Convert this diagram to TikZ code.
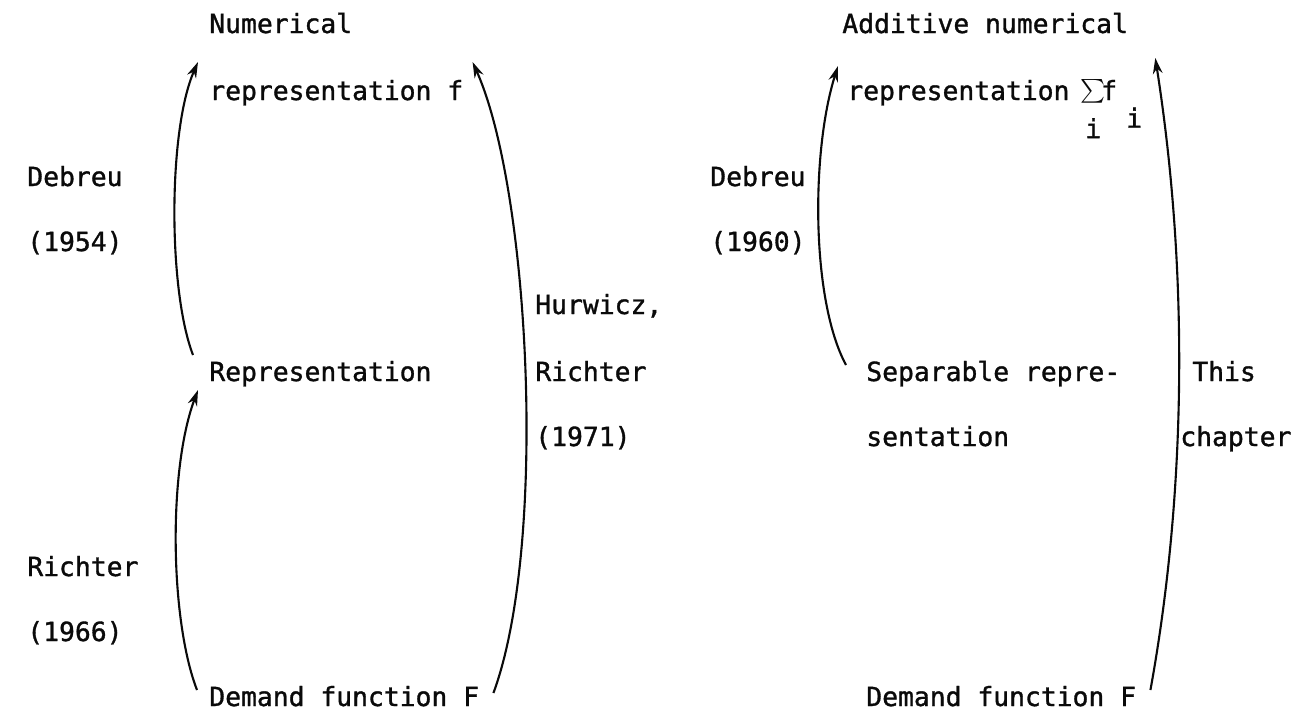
\documentclass[tikz,border=0pt]{standalone}
\usepackage{fontspec}
\newfontfamily\typefont[FakeBold=1.2]{DejaVu Sans Mono}
\definecolor{InkBlack}{HTML}{0A0A0A}
\usetikzlibrary{arrows.meta}

\begin{document}
\begin{tikzpicture}[x=0.02cm,y=-0.02cm,
        lbl/.style={anchor=base west,inner sep=0pt,text=InkBlack,
                    font=\typefont\fontsize{15}{18}\selectfont},
        arc/.style={draw=InkBlack,line width=1.2pt,
                    -{Stealth[length=9pt,width=5.5pt]}}]
  \useasboundingbox (0,0) rectangle (1313,710);

  % left scheme
  \node[lbl] (num)   at (209,33)  {Numerical};
  \node[lbl] (repf)  at (209,100) {representation f};
  \node[lbl] (deb1)  at (27,186)  {Debreu};
  \node[lbl] (deb1y) at (27,251)  {(1954)};
  \node[lbl] (hur)   at (535,314) {Hurwicz,};
  \node[lbl] (rich2) at (535,381) {Richter};
  \node[lbl] (yr71)  at (535,446) {(1971)};
  \node[lbl] (repr)  at (209,381) {Representation};
  \node[lbl] (rich1) at (27,576)  {Richter};
  \node[lbl] (yr66)  at (27,641)  {(1966)};
  \node[lbl] (dem1)  at (209,706) {Demand function F};

  % right scheme
  \node[lbl] (add)   at (842,33)  {Additive numerical};
  \node[lbl] (rsum)  at (847,100) {representation
      \makebox[0.6em][c]{\scalebox{1.35}{$\sum$}}\llap{\makebox[0.6em][c]{\raisebox{-1.45em}{i}}}f\hspace{0.35em}\raisebox{-1.05em}{i}};
  \node[lbl] (deb2)  at (710,186) {Debreu};
  \node[lbl] (deb2y) at (710,251) {(1960)};
  \node[lbl] (sep)   at (866,381) {Separable repre-};
  \node[lbl] (sent)  at (866,446) {sentation};
  \node[lbl] (this)  at (1192,381) {This};
  \node[lbl] (chap)  at (1180,446) {chapter};
  \node[lbl] (dem2)  at (866,706) {Demand function F};

  \draw[arc] ([shift={(-12,-16)}]dem1.base west)
      .. controls (170,620) and (168,470) .. ([shift={(-11,9)}]repr.base west);
  \draw[arc] ([shift={(-16,-26)}]repr.base west)
      .. controls (168,290) and (168,130) .. ([shift={(-11,-38)}]repf.base west);
  \draw[arc] ([shift={(14,-13)}]dem1.base east)
      .. controls (548,545) and (530,190) .. ([shift={(9,-38)}]repf.base east);
  \draw[arc] ([shift={(-20,-16)}]sep.base west)
      .. controls (811,300) and (811,151) .. ([shift={(-9,-34)}]rsum.base west);
  \draw[arc] ([shift={(14,-16)}]dem2.base east)
      .. controls (1185,500) and (1190,280) .. ([shift={(27,25)}]add.base east);
\end{tikzpicture}
\end{document}
